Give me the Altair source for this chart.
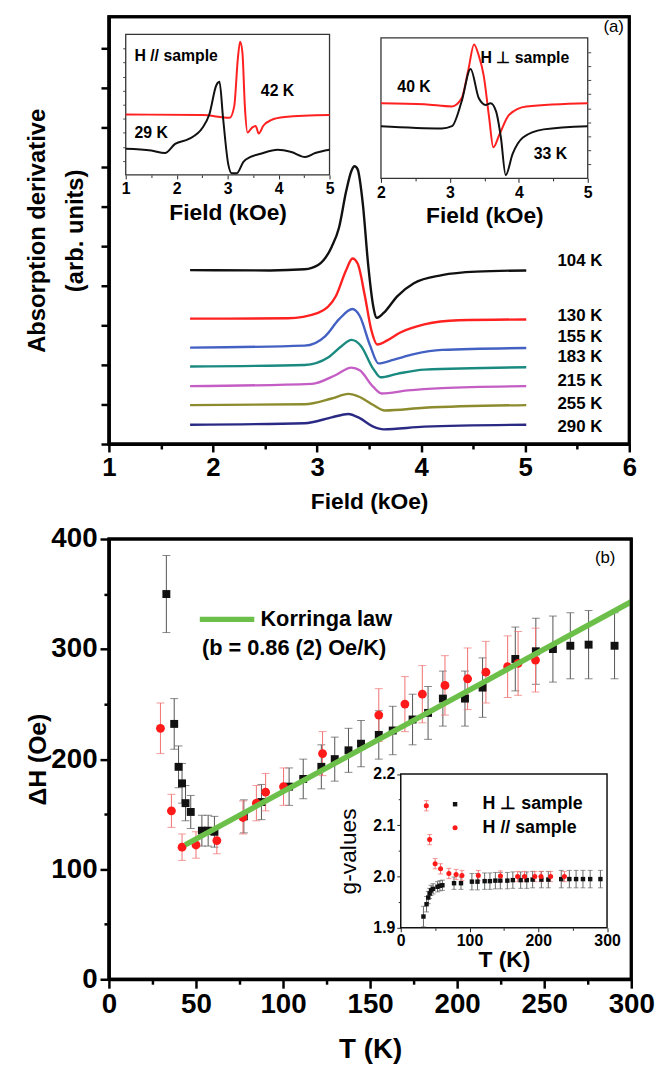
import altair as alt
import pandas as pd

FONT = "Liberation Sans"

# ===================== Panel (a): ESR derivative spectra =====================
spec_temps = ["104 K", "130 K", "155 K", "183 K", "215 K", "255 K", "290 K"]
spec_colors = ["#111111", "#ff2020", "#4361c2", "#1a8a80", "#c45ec4", "#8c8c2e", "#2a2a85"]

field_104 = [1.78, 2.55, 2.88, 3.01, 3.14, 3.21, 3.28, 3.33, 3.36, 3.39, 3.44, 3.49, 3.54, 3.57, 3.64, 3.77, 3.93, 4.20, 4.53, 5.01]
sig_104 = [4.51, 4.50, 4.53, 4.64, 5.11, 5.60, 6.56, 7.08, 7.20, 7.12, 6.22, 4.68, 3.57, 3.27, 3.40, 3.83, 4.17, 4.38, 4.47, 4.50]
field_130 = [1.78, 2.72, 3.01, 3.18, 3.28, 3.34, 3.39, 3.46, 3.52, 3.58, 3.67, 3.80, 4.03, 4.36, 5.01]
sig_130 = [3.25, 3.26, 3.40, 3.83, 4.51, 4.81, 4.68, 3.83, 2.97, 2.58, 2.68, 2.89, 3.10, 3.21, 3.23]
field_155 = [1.78, 2.88, 3.08, 3.21, 3.34, 3.41, 3.51, 3.59, 3.74, 3.93, 4.20, 5.01]
sig_155 = [2.50, 2.55, 2.80, 3.23, 3.50, 3.32, 2.55, 2.09, 2.19, 2.33, 2.44, 2.49]
field_183 = [1.78, 2.88, 3.11, 3.24, 3.33, 3.42, 3.54, 3.61, 3.77, 4.03, 5.01]
sig_183 = [2.01, 2.05, 2.25, 2.55, 2.70, 2.55, 1.95, 1.73, 1.82, 1.93, 1.99]
field_215 = [1.78, 2.95, 3.18, 3.33, 3.41, 3.54, 3.62, 3.87, 4.20, 5.01]
sig_215 = [1.50, 1.56, 1.79, 1.98, 1.91, 1.48, 1.31, 1.39, 1.45, 1.50]
field_255 = [1.78, 2.88, 3.14, 3.30, 3.41, 3.54, 3.65, 4.03, 5.01]
sig_255 = [1.01, 1.03, 1.18, 1.30, 1.22, 1.01, 0.87, 0.94, 1.01]
field_290 = [1.78, 2.88, 3.14, 3.30, 3.41, 3.54, 3.64, 4.03, 5.01]
sig_290 = [0.50, 0.54, 0.69, 0.78, 0.67, 0.45, 0.38, 0.45, 0.50]

spec_label_field = 5.31
spec_label_y = [4.75, 3.33, 2.78, 2.25, 1.62, 1.03, 0.43]

# inset (a-left): H // sample
par_series = ["42 K", "29 K"]
par_colors = ["#ff2020", "#111111"]
par42_f = [1.0, 2.51, 3.04, 3.13, 3.20, 3.245, 3.29, 3.34, 3.39, 3.48, 3.55, 3.61, 3.70, 3.85, 4.12, 5.0]
par42_s = [4.30, 4.26, 4.07, 4.90, 8.26, 9.49, 8.72, 4.77, 3.02, 3.37, 3.49, 2.95, 3.50, 3.90, 4.12, 4.26]
par29_f = [1.0, 1.5, 1.77, 1.97, 2.24, 2.51, 2.64, 2.78, 2.84, 2.91, 3.01, 3.08, 3.18, 3.31, 3.45, 3.65, 3.98, 4.25, 4.52, 4.72, 5.0]
par29_s = [1.86, 1.74, 1.56, 2.21, 2.56, 3.37, 4.30, 6.40, 6.63, 4.07, 0.81, 0.12, 0.12, 0.93, 1.28, 1.51, 1.79, 1.63, 1.28, 1.56, 1.79]

# inset (a-right): H perpendicular sample
perp_series = ["40 K", "33 K"]
perp_colors = ["#ff2020", "#111111"]
perp40_f = [2.0, 2.63, 3.03, 3.17, 3.27, 3.35, 3.42, 3.49, 3.57, 3.63, 3.72, 3.86, 4.11, 5.0]
perp40_s = [5.35, 5.28, 5.12, 5.70, 7.79, 9.53, 8.72, 7.33, 4.30, 2.21, 3.14, 4.53, 5.12, 5.35]
perp33_f = [2.0, 2.88, 3.03, 3.17, 3.30, 3.42, 3.52, 3.59, 3.67, 3.74, 3.81, 3.91, 4.06, 4.36, 5.0]
perp33_s = [3.72, 3.56, 3.72, 5.47, 7.79, 5.70, 5.23, 5.35, 4.77, 2.91, 0.23, 1.74, 2.91, 3.49, 3.72]

# ===================== Panel (b): linewidth vs T =====================
perp_T = [33, 37.5, 40, 42, 44, 47, 53.4, 57, 60.6, 77.5, 87.6, 103.5, 111.6, 122, 129.7, 137.6, 144.8, 155,
          163, 174.4, 183.3, 191.8, 204.5, 214.6, 233.4, 245.2, 255, 265, 275.5, 290.4]
perp_dH = [350, 232, 193, 178, 160, 152, 135, 135, 134, 148, 161, 175, 182, 193, 200, 208, 214, 222,
           226, 236, 242, 255, 255, 265, 291, 298, 300, 303, 304, 303]
perp_dH_err = [35, 23, 19, 18, 16, 15, 14, 14, 14, 15, 16, 17, 18, 20, 20, 20, 21, 22,
               22, 23, 24, 25, 25, 27, 29, 30, 30, 30, 31, 30]
par_T = [29.6, 35.9, 42, 50, 62, 77, 84.7, 90, 100.3, 122.7, 155, 170, 180, 193, 206, 216.5, 229, 235, 245]
par_dH = [228, 153, 120, 122, 126, 147, 160, 170, 175, 205, 240, 250, 259, 267, 273, 279, 284, 287, 290]
par_dH_err = [23, 15, 12, 12, 12, 15, 16, 17, 17, 20, 24, 25, 26, 27, 28, 28, 28, 29, 29]

korr_T = [43.8, 300]
korr_dH = [122, 343]

# inset (b): g-values
perp_g = [1.922, 1.946, 1.959, 1.967, 1.973, 1.976, 1.980, 1.982, 1.983, 1.987, 1.987, 1.990, 1.990, 1.991,
          1.991, 1.992, 1.992, 1.992, 1.993, 1.993, 1.993, 1.994, 1.994, 1.994, 1.995, 1.995, 1.995, 1.995,
          1.995, 1.995]
perp_g_err = [0.02, 0.015, 0.012, 0.01, 0.01, 0.01, 0.01, 0.01, 0.01, 0.012, 0.012, 0.016, 0.016, 0.016,
              0.016, 0.016, 0.016, 0.016, 0.016, 0.016, 0.016, 0.016, 0.016, 0.016, 0.017, 0.017, 0.017,
              0.017, 0.017, 0.017]
par_gT = [37.2, 42, 50, 57.9, 70, 80.5, 89, 112.8, 145, 170, 180, 195, 204, 218, 238]
par_g = [2.138, 2.072, 2.025, 2.015, 2.006, 2.004, 2.002, 2.002, 2.001, 2.0, 2.0, 2.0, 2.0, 2.0, 2.0]
par_g_err = [0.01] * 15

# ===================== build tables =====================
def series_table(names, xs, ys, xname, yname):
    rows = []
    for n, fx, fy in zip(names, xs, ys):
        for i, (a, b) in enumerate(zip(fx, fy)):
            rows.append({xname: a, yname: b, "series": n, "i": i})
    return pd.DataFrame(rows)

df_spec = series_table(spec_temps,
                       [field_104, field_130, field_155, field_183, field_215, field_255, field_290],
                       [sig_104, sig_130, sig_155, sig_183, sig_215, sig_255, sig_290], "field", "y")
df_spec_lab = pd.DataFrame({"field": [spec_label_field] * 7, "y": spec_label_y, "label": spec_temps})
df_tag_a = pd.DataFrame({"field": [5.85], "y": [10.8], "label": ["(a)"]})

df_par = series_table(par_series, [par42_f, par29_f], [par42_s, par29_s], "f", "g")
df_perp = series_table(perp_series, [perp40_f, perp33_f], [perp40_s, perp33_s], "f", "g")
df_par_txt = pd.DataFrame({"f": [1.17, 3.98, 1.50], "g": [8.49, 5.98, 2.95],
                           "label": ["H // sample", "42 K", "29 K"], "al": ["left", "center", "center"]})
df_perp_txt = pd.DataFrame({"f": [3.445, 2.48, 4.46], "g": [8.6, 6.51, 1.74],
                            "label": ["H \u22a5 sample", "40 K", "33 K"], "al": ["left", "center", "center"]})

df_bp = pd.DataFrame({"T": perp_T, "dH": perp_dH,
                      "lo": [a - b for a, b in zip(perp_dH, perp_dH_err)],
                      "hi": [a + b for a, b in zip(perp_dH, perp_dH_err)]})
df_br = pd.DataFrame({"T": par_T, "dH": par_dH,
                      "lo": [a - b for a, b in zip(par_dH, par_dH_err)],
                      "hi": [a + b for a, b in zip(par_dH, par_dH_err)]})
df_korr = pd.DataFrame({"T": korr_T, "dH": korr_dH})
df_korr_leg = pd.DataFrame({"T": [52.2], "T2": [83.5], "dH": [327]})
df_korr_txt = pd.DataFrame({"T": [87, 53.4], "dH": [327, 300.8],
                            "label": ["Korringa law", "(b = 0.86 (2) Oe/K)"]})
df_tag_b = pd.DataFrame({"T": [285], "dH": [383], "label": ["(b)"]})

df_gp = pd.DataFrame({"T": perp_T, "g": perp_g,
                      "lo": [a - b for a, b in zip(perp_g, perp_g_err)],
                      "hi": [a + b for a, b in zip(perp_g, perp_g_err)]})
df_gr = pd.DataFrame({"T": par_gT, "g": par_g,
                      "lo": [a - b for a, b in zip(par_g, par_g_err)],
                      "hi": [a + b for a, b in zip(par_g, par_g_err)]})
df_gleg = pd.DataFrame({"T": [79, 79], "g": [2.141, 2.095],
                        "label": ["H \u22a5   sample", "H //   sample"], "series": ["perp", "par"]})

# ===================== sizes =====================
W_A, H_A = 526, 432
W_B, H_B = 528, 445


def cond(test, a, b):
    return {"condition": {"test": test, "value": a}, "value": b}


# ===================== Panel (a) chart =====================
XA_DOM, YA_DOM = [1, 6], [0, 11.08]
xa = alt.Scale(domain=XA_DOM, nice=False, zero=False)
ya = alt.Scale(domain=YA_DOM, nice=False, zero=False)
XA_T, YA_T = "Field (kOe)", ["Absorption derivative", "(arb. units)"]

xa_axis = alt.Axis(values=[1 + 0.5 * i for i in range(11)], format=".0f",
                   labelExpr="datum.value % 1 === 0 ? datum.label : ''",
                   tickSize=cond("datum.value % 1 === 0", 8, 5), tickWidth=2.5, tickColor="black",
                   domainWidth=3, domainColor="black", grid=False,
                   labelFontSize=26, labelFontWeight="bold", labelPadding=3, labelFlush=False, labelOverlap=False,
                   labelColor="black", title=XA_T, titleFontSize=23, titleFontWeight="bold",
                   titlePadding=10, titleColor="black")
ya_axis = alt.Axis(values=[i * 20 / 39 for i in range(22)], labels=False,
                   tickSize=cond("round(datum.value*39/20) % 2 === 0", 8, 5), tickWidth=2.5, tickColor="black",
                   domainWidth=3, domainColor="black", grid=False,
                   title=YA_T, titleFontSize=24, titleFontWeight="bold",
                   titleLineHeight=39, titlePadding=12, titleColor="black")

curves = alt.Chart(df_spec).mark_line(strokeWidth=2.4, interpolate="monotone").encode(
    x=alt.X("field:Q", scale=xa, axis=xa_axis),
    y=alt.Y("y:Q", scale=ya, axis=ya_axis),
    color=alt.Color("series:N", scale=alt.Scale(domain=spec_temps, range=spec_colors), legend=None),
    order="i:Q",
)
spec_text = alt.Chart(df_spec_lab).mark_text(align="left", baseline="middle", fontSize=17, fontWeight="bold",
                                             color="black").encode(
    x=alt.X("field:Q", scale=xa, title=XA_T), y=alt.Y("y:Q", scale=ya, title=YA_T), text="label:N")
tag_a = alt.Chart(df_tag_a).mark_text(align="center", baseline="middle", fontSize=17, color="black").encode(
    x=alt.X("field:Q", scale=xa, title=XA_T), y=alt.Y("y:Q", scale=ya, title=YA_T), text="label:N")
frame_a = alt.Chart(pd.DataFrame({"field": [XA_DOM[0]], "f2": [XA_DOM[1]], "y": [YA_DOM[0]], "y2": [YA_DOM[1]]})
                    ).mark_rect(fillOpacity=0, stroke="black", strokeWidth=3).encode(
    x=alt.X("field:Q", scale=xa, title=XA_T), x2="f2:Q", y=alt.Y("y:Q", scale=ya, title=YA_T), y2="y2:Q")
main_a = alt.layer(curves, spec_text, tag_a, frame_a)


def spectrum_inset(df_lines, df_txt, names, colors, xdom, xrange_, yrange_, xvals, yorient, yoffset):
    xs = alt.Scale(domain=xdom, range=xrange_, nice=False, zero=False)
    ys = alt.Scale(domain=[0, 10], range=yrange_, nice=False, zero=False)
    box_df = pd.DataFrame({"f": [xdom[0]], "f2": [xdom[1]], "g": [0], "g2": [10]})
    x_axis = alt.Axis(orient="bottom", offset=yrange_[0] - H_A, values=xvals, format=".0f",
                      labelExpr="datum.value % 1 === 0 ? datum.label : ''",
                      tickSize=cond("datum.value % 1 === 0", 4, 2.5), tickWidth=1, tickColor="#222",
                      domain=False, grid=False, labelFontSize=16, labelFontWeight="bold", labelPadding=2,
                      labelFlush=False, labelOverlap=False, labelColor="black",
                      title="Field (kOe)", titleFontSize=23, titleFontWeight="bold", titlePadding=5,
                      titleColor="black")
    y_axis = alt.Axis(orient=yorient, offset=yoffset, values=[1, 2, 3, 4, 5, 6, 7, 8, 9], labels=False,
                      tickSize=3, tickWidth=1, tickColor="#444", domain=False, grid=False, title=None)
    box = alt.Chart(box_df).mark_rect(fill="white", stroke="#333", strokeWidth=1.3).encode(
        x=alt.X("f:Q", scale=xs, axis=x_axis), x2="f2:Q",
        y=alt.Y("g:Q", scale=ys, axis=y_axis), y2="g2:Q",
    )
    lines = alt.Chart(df_lines).mark_line(strokeWidth=2, interpolate="monotone").encode(
        x=alt.X("f:Q", scale=xs, title="Field (kOe)"),
        y=alt.Y("g:Q", scale=ys, title=None),
        color=alt.Color("series:N", scale=alt.Scale(domain=names, range=colors), legend=None),
        order="i:Q",
    )
    txt_left = alt.Chart(df_txt[df_txt["al"] == "left"]).mark_text(
        align="left", baseline="middle", fontSize=16, fontWeight="bold", color="black").encode(
        x=alt.X("f:Q", scale=xs, title="Field (kOe)"), y=alt.Y("g:Q", scale=ys, title=None), text="label:N")
    txt_center = alt.Chart(df_txt[df_txt["al"] == "center"]).mark_text(
        align="center", baseline="middle", fontSize=16, fontWeight="bold", color="black").encode(
        x=alt.X("f:Q", scale=xs, title="Field (kOe)"), y=alt.Y("g:Q", scale=ys, title=None), text="label:N")
    return alt.layer(box, lines, txt_left, txt_center)


inset_par = spectrum_inset(df_par, df_par_txt, par_series, par_colors, [1, 5], [17, 223], [160, 18],
                           [1 + 0.5 * i for i in range(9)], "left", -17)
inset_perp = spectrum_inset(df_perp, df_perp_txt, perp_series, perp_colors, [2, 5], [275, 484], [163.5, 21.5],
                            [2 + 0.5 * i for i in range(7)], "right", 484 - W_A)

panel_a = alt.layer(main_a, inset_par, inset_perp).resolve_scale(
    x="independent", y="independent", color="independent").resolve_axis(
    x="independent", y="independent").properties(width=W_A, height=H_A)

# ===================== Panel (b) chart =====================
XB_DOM, YB_DOM = [0, 300], [0, 400]
xb = alt.Scale(domain=XB_DOM, nice=False, zero=False)
yb = alt.Scale(domain=YB_DOM, nice=False, zero=False)
XT, YT = "T (K)", "\u0394H (Oe)"

xb_axis = alt.Axis(values=list(range(0, 301, 25)), labelExpr="datum.value % 50 === 0 ? datum.label : ''",
                   tickSize=cond("datum.value % 50 === 0", 9, 5), tickWidth=2.5, tickColor="black",
                   domainWidth=3, domainColor="black", grid=False,
                   labelFontSize=28, labelFontWeight="bold", labelPadding=3, labelFlush=False, labelOverlap=False,
                   labelColor="black", title=XT, titleFontSize=28, titleFontWeight="bold", titlePadding=17,
                   titleColor="black")
yb_axis = alt.Axis(values=list(range(0, 401, 50)), labelExpr="datum.value % 100 === 0 ? datum.label : ''",
                   tickSize=cond("datum.value % 100 === 0", 9, 5), tickWidth=2.5, tickColor="black",
                   domainWidth=3, domainColor="black", grid=False,
                   labelFontSize=28, labelFontWeight="bold", labelPadding=3, labelFlush=False, labelOverlap=False,
                   labelColor="black", title=YT, titleFontSize=25, titleFontWeight="bold", titlePadding=0,
                   titleColor="black")

err_b_black = alt.Chart(df_bp).mark_errorbar(ticks=True, size=8, thickness=1, color="#555555").encode(
    x=alt.X("T:Q", scale=xb, title=XT), y=alt.Y("lo:Q", scale=yb, title=YT), y2="hi:Q")
err_b_red = alt.Chart(df_br).mark_errorbar(ticks=True, size=8, thickness=1, color="#f07070").encode(
    x=alt.X("T:Q", scale=xb, title=XT), y=alt.Y("lo:Q", scale=yb, title=YT), y2="hi:Q")
pts_black = alt.Chart(df_bp).mark_square(size=64, color="#111111", opacity=1).encode(
    x=alt.X("T:Q", scale=xb, axis=xb_axis), y=alt.Y("dH:Q", scale=yb, axis=yb_axis))
pts_red = alt.Chart(df_br).mark_circle(size=80, color="#ff1a1a", opacity=1).encode(
    x=alt.X("T:Q", scale=xb, title=XT), y=alt.Y("dH:Q", scale=yb, title=YT))
korr = alt.Chart(df_korr).mark_line(color="#6cc04a", strokeWidth=5.5).encode(
    x=alt.X("T:Q", scale=xb, title=XT), y=alt.Y("dH:Q", scale=yb, title=YT))
korr_leg = alt.Chart(df_korr_leg).mark_rule(color="#6cc04a", strokeWidth=5.5).encode(
    x=alt.X("T:Q", scale=xb, title=XT), x2="T2:Q", y=alt.Y("dH:Q", scale=yb, title=YT))
korr_txt = alt.Chart(df_korr_txt).mark_text(align="left", baseline="middle", fontSize=22, fontWeight="bold",
                                            color="black").encode(
    x=alt.X("T:Q", scale=xb, title=XT), y=alt.Y("dH:Q", scale=yb, title=YT), text="label:N")
tag_b = alt.Chart(df_tag_b).mark_text(align="center", baseline="middle", fontSize=17, color="black").encode(
    x=alt.X("T:Q", scale=xb, title=XT), y=alt.Y("dH:Q", scale=yb, title=YT), text="label:N")
frame_b = alt.Chart(pd.DataFrame({"T": [XB_DOM[0]], "T2": [XB_DOM[1]], "dH": [YB_DOM[0]], "dH2": [YB_DOM[1]]})
                    ).mark_rect(fillOpacity=0, stroke="black", strokeWidth=3).encode(
    x=alt.X("T:Q", scale=xb, title=XT), x2="T2:Q", y=alt.Y("dH:Q", scale=yb, title=YT), y2="dH2:Q")

main_b = alt.layer(err_b_black, err_b_red, pts_black, pts_red, korr, korr_leg, korr_txt, tag_b, frame_b)

# inset (b)
xi = alt.Scale(domain=[0, 300], range=[295, 503.5], nice=False, zero=False)
yi = alt.Scale(domain=[1.9, 2.2], range=[393, 237.5], nice=False, zero=False)
GT, GY = "T (K)", "g-values"
xi_axis = alt.Axis(orient="bottom", offset=393 - H_B, values=list(range(0, 301, 50)),
                   labelExpr="datum.value % 100 === 0 ? datum.label : ''",
                   tickSize=cond("datum.value % 100 === 0", 4, 2.5), tickWidth=1, tickColor="#222",
                   domain=False, grid=False, labelFontSize=16, labelFontWeight="bold", labelPadding=1,
                   labelFlush=False, labelOverlap=False, labelColor="black",
                   title=GT, titleFontSize=23, titleFontWeight="bold", titlePadding=0, titleColor="black")
yi_axis = alt.Axis(orient="left", offset=-295, values=[1.9, 1.95, 2.0, 2.05, 2.1, 2.15, 2.2], format=".1f",
                   labelExpr="abs(datum.value*10 - round(datum.value*10)) < 0.01 ? datum.label : ''",
                   tickSize=cond("abs(datum.value*10 - round(datum.value*10)) < 0.01", 4, 2.5), tickWidth=1,
                   tickColor="#222", domain=False, grid=False, labelFontSize=16, labelFontWeight="bold",
                   labelPadding=2, labelFlush=False, labelOverlap=False, labelColor="black",
                   title=GY, titleFontSize=23, titleFontWeight="normal", titlePadding=12, titleColor="black")

box_b = alt.Chart(pd.DataFrame({"T": [0], "T2": [300], "g": [1.9], "g2": [2.2]})).mark_rect(
    fill="white", stroke="#111", strokeWidth=1.5).encode(
    x=alt.X("T:Q", scale=xi, axis=xi_axis), x2="T2:Q",
    y=alt.Y("g:Q", scale=yi, axis=yi_axis), y2="g2:Q")
gerr_black = alt.Chart(df_gp).mark_errorbar(ticks=True, size=5, thickness=1, color="#666666").encode(
    x=alt.X("T:Q", scale=xi, title=GT), y=alt.Y("lo:Q", scale=yi, title=GY), y2="hi:Q")
gerr_red = alt.Chart(df_gr).mark_errorbar(ticks=True, size=5, thickness=1, color="#f07070").encode(
    x=alt.X("T:Q", scale=xi, title=GT), y=alt.Y("lo:Q", scale=yi, title=GY), y2="hi:Q")
gpts_black = alt.Chart(df_gp).mark_square(size=20, color="#111111", opacity=1).encode(
    x=alt.X("T:Q", scale=xi, title=GT), y=alt.Y("g:Q", scale=yi, title=GY))
gpts_red = alt.Chart(df_gr).mark_circle(size=26, color="#ff1a1a", opacity=1).encode(
    x=alt.X("T:Q", scale=xi, title=GT), y=alt.Y("g:Q", scale=yi, title=GY))
gleg_sq = alt.Chart(df_gleg[df_gleg["series"] == "perp"]).mark_square(size=20, color="#111111", opacity=1).encode(
    x=alt.X("T:Q", scale=xi, title=GT), y=alt.Y("g:Q", scale=yi, title=GY))
gleg_ci = alt.Chart(df_gleg[df_gleg["series"] == "par"]).mark_circle(size=26, color="#ff1a1a", opacity=1).encode(
    x=alt.X("T:Q", scale=xi, title=GT), y=alt.Y("g:Q", scale=yi, title=GY))
gleg_txt = alt.Chart(df_gleg).transform_calculate(tx="datum.T + 40").mark_text(
    align="left", baseline="middle", fontSize=18, fontWeight="bold", color="black").encode(
    x=alt.X("tx:Q", scale=xi, title=GT), y=alt.Y("g:Q", scale=yi, title=GY), text="label:N")

inset_b = alt.layer(box_b, gerr_black, gerr_red, gpts_black, gpts_red, gleg_sq, gleg_ci, gleg_txt)

panel_b = alt.layer(main_b, inset_b).resolve_scale(x="independent", y="independent").resolve_axis(
    x="independent", y="independent").properties(width=W_B, height=H_B)

chart = alt.vconcat(panel_a, panel_b, spacing=8).properties(
    padding={"left": 16, "top": 0, "right": 0, "bottom": 0}, background="white"
).configure(font=FONT).configure_view(stroke="black", strokeWidth=3)

chart.save("out.html", embed_options={"renderer": "svg", "actions": False})
